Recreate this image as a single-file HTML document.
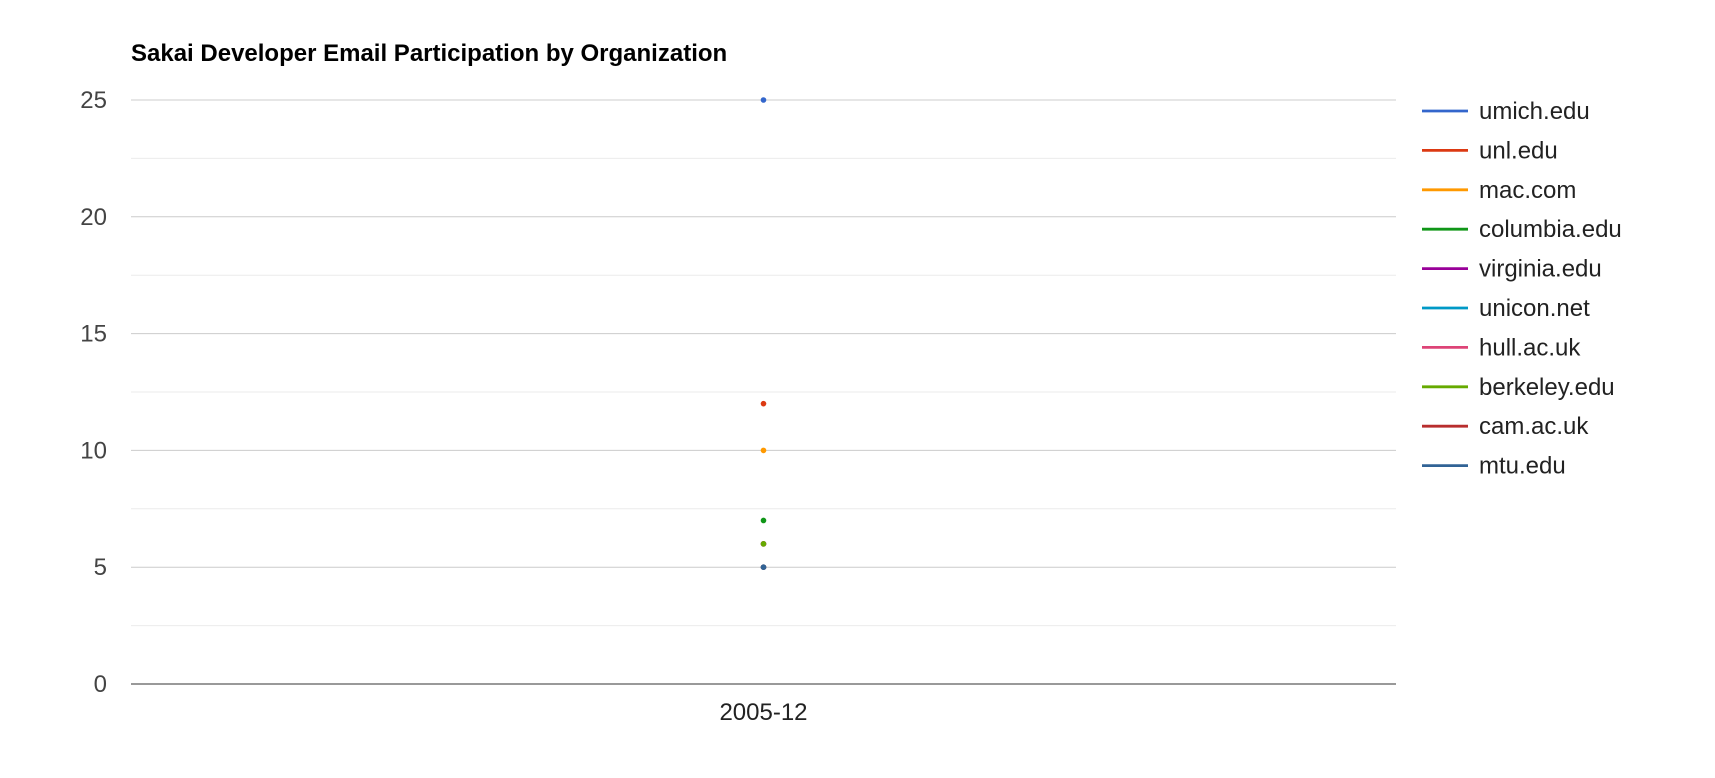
<!DOCTYPE html>
<html><head><meta charset="utf-8"><style>
body{margin:0;background:#fff;width:1715px;height:773px;overflow:hidden}
svg{font-family:"Liberation Sans",Arial,sans-serif}
</style></head><body>
<svg id="chart" width="1715" height="773">
<text x="131" y="61" font-size="24" font-weight="bold" fill="#000">Sakai Developer Email Participation by Organization</text>
<g id="grid"></g><g id="marks"></g><g id="legend"></g>
</svg>
<script>
const categories=["2005-12"];
const seriesNames=["umich.edu","unl.edu","mac.com","columbia.edu","virginia.edu","unicon.net","hull.ac.uk","berkeley.edu","cam.ac.uk","mtu.edu"];
const seriesValues=[[25],[12],[10],[7],[6],[5],[6],[6],[5],[5]];
const seriesColors=["#3366cc","#dc3912","#ff9900","#109618","#990099","#0099c6","#dd4477","#66aa00","#b82e2e","#316395"];
const yTicks=[0,5,10,15,20,25];
const NS="http://www.w3.org/2000/svg";
const X0=131,X1=1396,Y0=684,Y1=100,YMAX=25;
const y=v=>Y0-(v/YMAX)*(Y0-Y1);
const x=i=>X0+(i+0.5)*(X1-X0)/categories.length;
function mk(t,a,p){const e=document.createElementNS(NS,t);for(const k in a)e.setAttribute(k,a[k]);p.appendChild(e);return e;}
const grid=document.getElementById('grid'),marks=document.getElementById('marks'),leg=document.getElementById('legend');
for(let k=0;k<yTicks.length;k++){
 const v=yTicks[k];
 if(k<yTicks.length-1){const mid=(v+yTicks[k+1])/2;
  const m=mk('line',{x1:X0,x2:X1,y1:y(mid),y2:y(mid),stroke:'#ebebeb','stroke-width':1},grid);
  
  }
 const l=mk('line',{x1:X0,x2:X1,y1:y(v),y2:y(v),stroke:v===0?'#333':'#ccc','stroke-width':1},grid);
 
 
 const t=mk('text',{x:107,y:y(v)+8,'font-size':24,fill:'#444','text-anchor':'end'},grid);t.textContent=v;
 
 
}
categories.forEach((c,i)=>{const t=mk('text',{x:x(i),y:720,'font-size':24,fill:'#222','text-anchor':'middle'},grid);t.textContent=c;
 
 });
seriesNames.forEach((n,s)=>{
 seriesValues[s].forEach((v,i)=>{const p=mk('circle',{cx:x(i),cy:y(v),r:2.8,fill:seriesColors[s]},marks);
  
  });
 const ly=111+s*39.4;
 const g=mk('g',{},leg);
 
 
 mk('line',{x1:1422,x2:1468,y1:ly,y2:ly,stroke:seriesColors[s],'stroke-width':2.8},g);
 const t=mk('text',{x:1479,y:ly+8,'font-size':24,fill:'#222'},g);t.textContent=n;
});
</script>
</body></html>
